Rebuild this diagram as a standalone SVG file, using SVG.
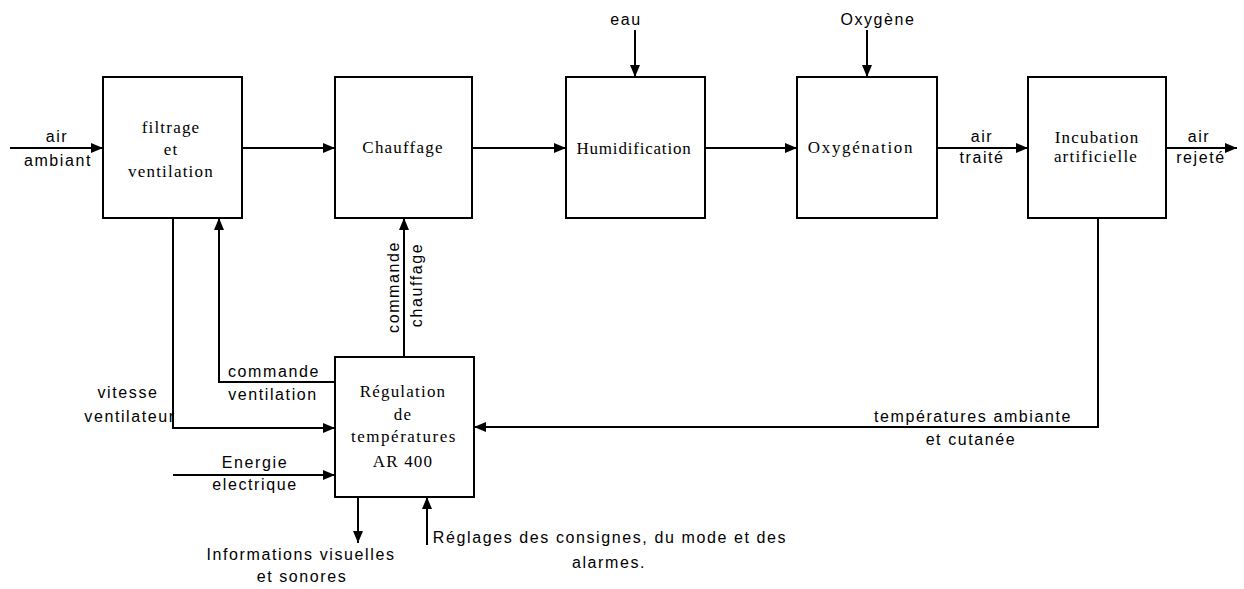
<svg xmlns="http://www.w3.org/2000/svg" width="1244" height="589" viewBox="0 0 1244 589">
<style>
.box{fill:#fff;stroke:#000;stroke-width:2}
.ln{fill:none;stroke:#000;stroke-width:2}
.bt{font-family:"Liberation Serif","Times New Roman",serif;font-size:17px;letter-spacing:1.2px;text-anchor:middle;fill:#000}
.lt{font-family:"Liberation Sans",Arial,sans-serif;font-size:16px;letter-spacing:1.6px;text-anchor:middle;fill:#000}
</style>
<defs>
<marker id="ah" markerUnits="userSpaceOnUse" markerWidth="12" markerHeight="10" refX="12" refY="5" orient="auto">
<path d="M0,0 L12,5 L0,10 Z" fill="#000"/>
</marker>
</defs>
<rect width="1244" height="589" fill="#fff"/>
<g id="connectors">
<line class="ln" x1="10" y1="148" x2="103" y2="148" marker-end="url(#ah)"/>
<line class="ln" x1="242" y1="148" x2="335" y2="148" marker-end="url(#ah)"/>
<line class="ln" x1="472" y1="148" x2="566" y2="148" marker-end="url(#ah)"/>
<line class="ln" x1="705" y1="148" x2="797" y2="148" marker-end="url(#ah)"/>
<line class="ln" x1="937" y1="148" x2="1028" y2="148" marker-end="url(#ah)"/>
<line class="ln" x1="1166" y1="148" x2="1237" y2="148" marker-end="url(#ah)"/>
<line class="ln" x1="635" y1="30" x2="635" y2="77" marker-end="url(#ah)"/>
<line class="ln" x1="867" y1="30" x2="867" y2="77" marker-end="url(#ah)"/>
<line class="ln" x1="404" y1="357" x2="404" y2="218" marker-end="url(#ah)"/>
<polyline class="ln" points="335,382 219,382 219,218" marker-end="url(#ah)"/>
<polyline class="ln" points="173,218 173,428 335,428" marker-end="url(#ah)"/>
<polyline class="ln" points="1098,218 1098,427 474,427" marker-end="url(#ah)"/>
<line class="ln" x1="173" y1="475" x2="335" y2="475" marker-end="url(#ah)"/>
<line class="ln" x1="358" y1="497" x2="358" y2="543" marker-end="url(#ah)"/>
<line class="ln" x1="427" y1="545" x2="427" y2="497" marker-end="url(#ah)"/>
</g>
<g id="labels">
<text class="lt" x="57" y="142">air</text>
<text class="lt" x="58" y="166">ambiant</text>
<text class="lt" x="626" y="25">eau</text>
<text class="lt" x="878" y="25">Oxygène</text>
<text class="lt" x="982" y="142">air</text>
<text class="lt" x="982" y="163">traité</text>
<text class="lt" x="1199" y="142">air</text>
<text class="lt" x="1201" y="163">rejeté</text>
<text class="lt" transform="translate(399,287) rotate(-90)">commande</text>
<text class="lt" transform="translate(422,285) rotate(-90)">chauffage</text>
<text class="lt" x="274" y="377">commande</text>
<text class="lt" x="273" y="400">ventilation</text>
<text class="lt" x="128" y="398">vitesse</text>
<text class="lt" x="130" y="422">ventilateur</text>
<text class="lt" x="255" y="468">Energie</text>
<text class="lt" x="255" y="490">electrique</text>
<text class="lt" x="301" y="560">Informations visuelles</text>
<text class="lt" x="302" y="582">et sonores</text>
<text class="lt" x="610" y="543">Réglages des consignes, du mode et des</text>
<text class="lt" x="609" y="568">alarmes.</text>
<text class="lt" x="973" y="422">températures ambiante</text>
<text class="lt" x="971" y="445">et cutanée</text>
</g>
<g id="n-filtrage">
<rect class="box" x="103" y="77" width="139" height="141"/>
<text class="bt" x="171" y="133">filtrage</text>
<text class="bt" x="171" y="155">et</text>
<text class="bt" x="171" y="177">ventilation</text>
</g>
<g id="n-chauffage">
<rect class="box" x="335" y="77" width="137" height="141"/>
<text class="bt" x="403" y="153">Chauffage</text>
</g>
<g id="n-humidification">
<rect class="box" x="566" y="77" width="139" height="141"/>
<text class="bt" x="634" y="154" style="letter-spacing:0.8px">Humidification</text>
</g>
<g id="n-oxygenation">
<rect class="box" x="797" y="77" width="140" height="141"/>
<text class="bt" x="861" y="153" style="letter-spacing:1.7px">Oxygénation</text>
</g>
<g id="n-incubation">
<rect class="box" x="1028" y="77" width="138" height="141"/>
<text class="bt" x="1097" y="143">Incubation</text>
<text class="bt" x="1096" y="162">artificielle</text>
</g>
<g id="n-regulation">
<rect class="box" x="335" y="357" width="139" height="140"/>
<text class="bt" x="403" y="397">Régulation</text>
<text class="bt" x="403" y="420">de</text>
<text class="bt" x="404" y="442" style="letter-spacing:1.5px">températures</text>
<text class="bt" x="403" y="467">AR 400</text>
</g>
</svg>
